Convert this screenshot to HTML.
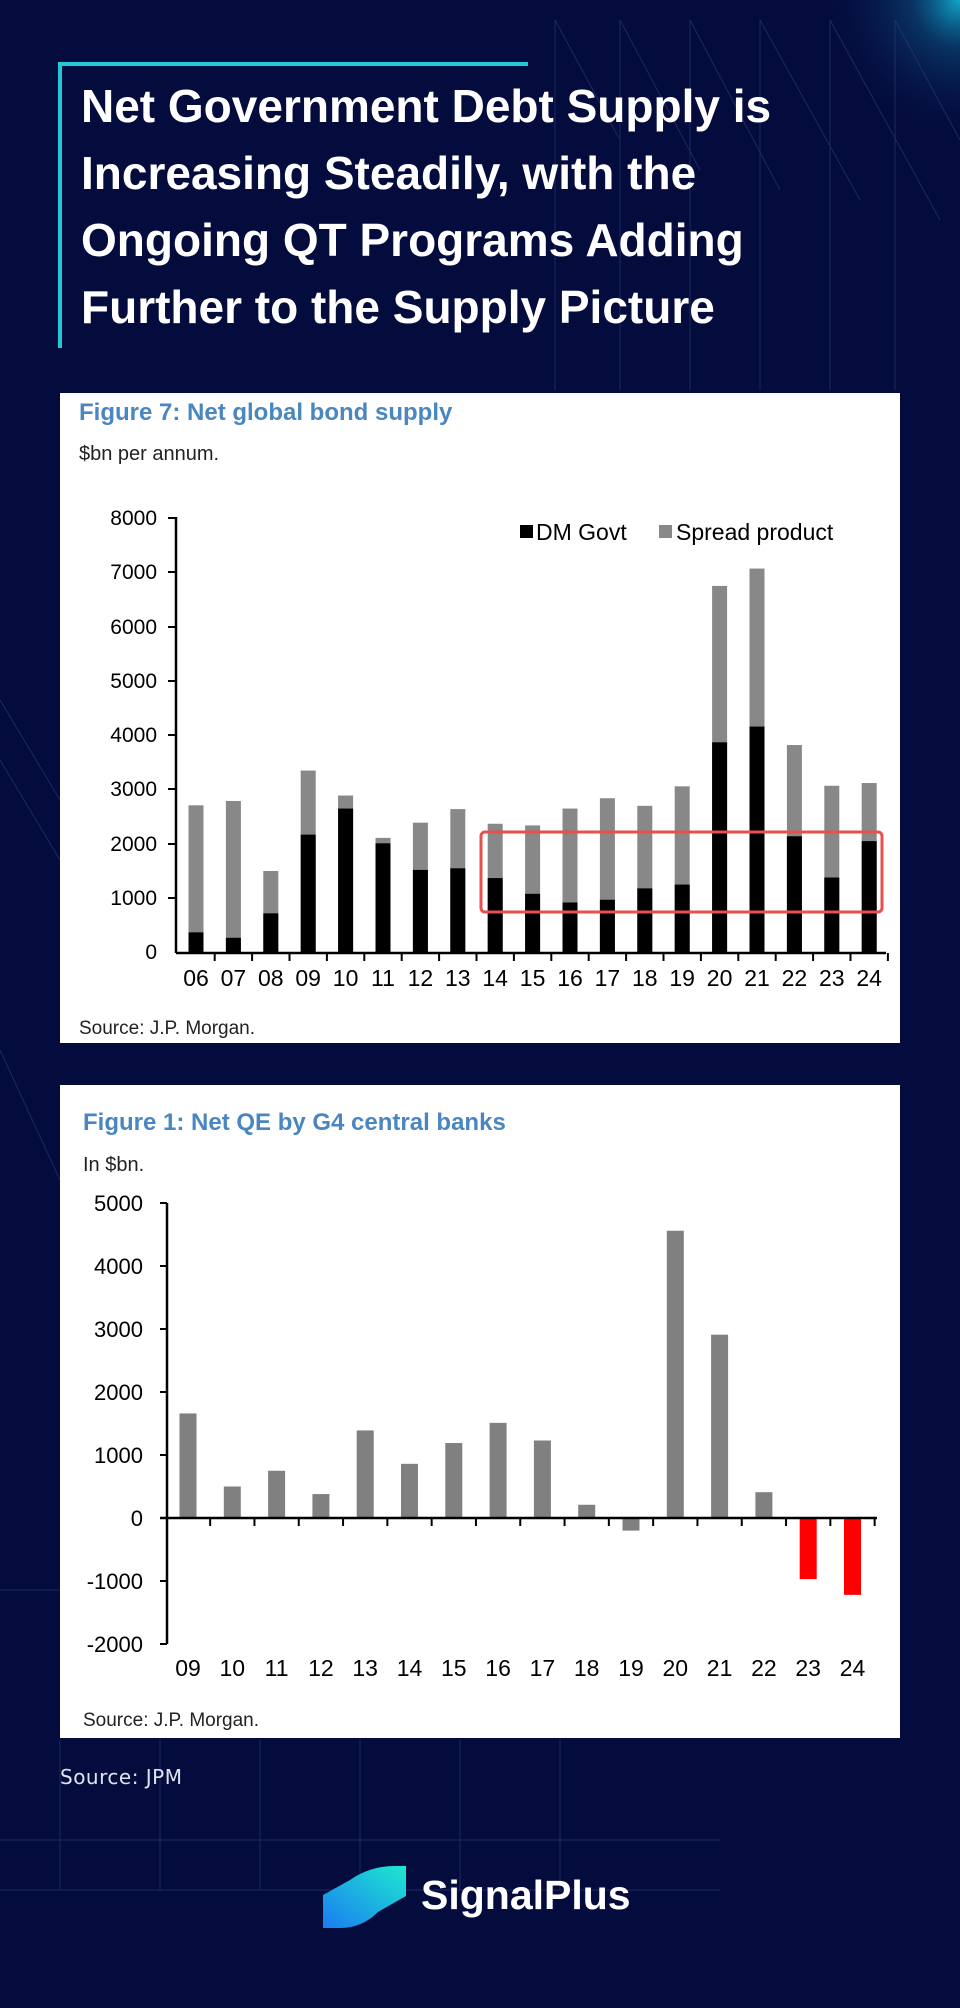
<!DOCTYPE html>
<html><head><meta charset="utf-8"><style>
html,body{margin:0;padding:0;background:#040c3d;}
svg{display:block}
</style></head><body>
<svg width="960" height="2008" viewBox="0 0 960 2008" xmlns="http://www.w3.org/2000/svg" font-family="Liberation Sans, Arial, sans-serif">
<defs>
<radialGradient id="g1" cx="1" cy="0" r="1"><stop offset="0" stop-color="#13b8d8" stop-opacity="0.9"/><stop offset="0.12" stop-color="#0d5a8a" stop-opacity="0.5"/><stop offset="0.35" stop-color="#040c3d" stop-opacity="0"/></radialGradient>
<radialGradient id="g2" cx="0" cy="0.5" r="0.5"><stop offset="0" stop-color="#0f8fba" stop-opacity="0.8"/><stop offset="0.5" stop-color="#0a3a6e" stop-opacity="0.4"/><stop offset="1" stop-color="#040c3d" stop-opacity="0"/></radialGradient>
<linearGradient id="lg" x1="0" y1="1" x2="1" y2="0"><stop offset="0" stop-color="#1a7cf0"/><stop offset="1" stop-color="#1ee8d0"/></linearGradient>
</defs>
<rect width="960" height="2008" fill="#040c3d"/>
<rect x="560" y="0" width="400" height="400" fill="url(#g1)"/>
<rect x="-200" y="580" width="400" height="400" fill="url(#g2)"/>
<g stroke="#2a3f7a" stroke-width="1" opacity="0.6" fill="none">
<line x1="555" y1="20" x2="620" y2="140"/><line x1="620" y1="20" x2="700" y2="170"/><line x1="690" y1="20" x2="780" y2="190"/><line x1="760" y1="20" x2="860" y2="200"/><line x1="830" y1="20" x2="940" y2="220"/><line x1="895" y1="20" x2="960" y2="140"/>
<line x1="555" y1="20" x2="555" y2="390"/><line x1="620" y1="20" x2="620" y2="390"/><line x1="690" y1="20" x2="690" y2="390"/><line x1="760" y1="20" x2="760" y2="390"/><line x1="830" y1="20" x2="830" y2="390"/><line x1="895" y1="20" x2="895" y2="390"/>
<line x1="0" y1="700" x2="60" y2="800"/><line x1="0" y1="760" x2="60" y2="860"/><line x1="0" y1="1050" x2="60" y2="1180"/>
<line x1="0" y1="1590" x2="720" y2="1590"/><line x1="0" y1="1840" x2="720" y2="1840"/><line x1="0" y1="1890" x2="720" y2="1890"/>
<line x1="60" y1="1740" x2="60" y2="1890"/><line x1="160" y1="1740" x2="160" y2="1890"/><line x1="260" y1="1740" x2="260" y2="1890"/><line x1="360" y1="1740" x2="360" y2="1890"/><line x1="460" y1="1740" x2="460" y2="1890"/><line x1="560" y1="1740" x2="560" y2="1890"/>
</g>
<!-- title -->
<rect x="58" y="62" width="470" height="4" fill="#22c8d6"/>
<rect x="58" y="62" width="4" height="286" fill="#22c8d6"/>
<g fill="#fff" font-family="Liberation Sans, DejaVu Sans, sans-serif" font-weight="bold" font-size="46">
<text x="81" y="122">Net Government Debt Supply is</text>
<text x="81" y="189">Increasing Steadily, with the</text>
<text x="81" y="256">Ongoing QT Programs Adding</text>
<text x="81" y="323">Further to the Supply Picture</text>
</g>
<!-- panel 1 -->
<rect x="60" y="393" width="840" height="650" fill="#fff"/>
<text x="79" y="420" font-size="24" font-weight="bold" fill="#4a86c0">Figure 7: Net global bond supply</text>
<text x="79" y="460" font-size="20" fill="#222">$bn per annum.</text>
<g font-size="21" fill="#000" text-anchor="end">
<text x="157" y="525">8000</text><text x="157" y="579">7000</text><text x="157" y="634">6000</text><text x="157" y="688">5000</text><text x="157" y="742">4000</text><text x="157" y="796">3000</text><text x="157" y="851">2000</text><text x="157" y="905">1000</text><text x="157" y="959">0</text>
</g>
<g id="bars1"></g>
<line x1="176" y1="517" x2="176" y2="953" stroke="#000" stroke-width="2.5"/>
<line x1="176" y1="953" x2="886" y2="953" stroke="#000" stroke-width="2.5"/>
<g stroke="#000" stroke-width="2">
<line x1="168" y1="518" x2="176" y2="518"/><line x1="168" y1="572" x2="176" y2="572"/><line x1="168" y1="627" x2="176" y2="627"/><line x1="168" y1="681" x2="176" y2="681"/><line x1="168" y1="735" x2="176" y2="735"/><line x1="168" y1="789" x2="176" y2="789"/><line x1="168" y1="844" x2="176" y2="844"/><line x1="168" y1="898" x2="176" y2="898"/>
</g>
<rect x="520" y="525" width="13" height="13" fill="#000"/>
<text x="536" y="540" font-size="23" fill="#000">DM Govt</text>
<rect x="659" y="525" width="13" height="13" fill="#888"/>
<text x="676" y="540" font-size="23" fill="#000">Spread product</text>
<rect x="481" y="832" width="401" height="80" rx="4" fill="none" stroke="#e8504c" stroke-width="3"/>
<text x="79" y="1034" font-size="19" fill="#222">Source: J.P. Morgan.</text>
<!-- panel 2 -->
<rect x="60" y="1085" width="840" height="653" fill="#fff"/>
<text x="83" y="1130" font-size="24" font-weight="bold" fill="#4a86c0">Figure 1: Net QE by G4 central banks</text>
<text x="83" y="1171" font-size="20" fill="#222">In $bn.</text>
<g font-size="22" fill="#000" text-anchor="end">
<text x="143" y="1211">5000</text><text x="143" y="1274">4000</text><text x="143" y="1337">3000</text><text x="143" y="1400">2000</text><text x="143" y="1463">1000</text><text x="143" y="1526">0</text><text x="143" y="1589">-1000</text><text x="143" y="1652">-2000</text>
</g>
<g id="bars2"></g>
<line x1="167" y1="1203" x2="167" y2="1644" stroke="#000" stroke-width="2.5"/>
<line x1="160" y1="1518" x2="877" y2="1518" stroke="#000" stroke-width="2.5"/>
<g stroke="#000" stroke-width="2">
<line x1="160" y1="1203" x2="167" y2="1203"/><line x1="160" y1="1266" x2="167" y2="1266"/><line x1="160" y1="1329" x2="167" y2="1329"/><line x1="160" y1="1392" x2="167" y2="1392"/><line x1="160" y1="1455" x2="167" y2="1455"/><line x1="160" y1="1581" x2="167" y2="1581"/><line x1="160" y1="1644" x2="167" y2="1644"/>
</g>
<text x="83" y="1726" font-size="19" fill="#222">Source: J.P. Morgan.</text>
<text x="60" y="1784" font-size="20" fill="#dfe4f2" font-family="DejaVu Sans, sans-serif" letter-spacing="0.5">Source: JPM</text>
<!-- logo -->
<path d="M323 1895 L350 1880 Q370 1866 395 1866 L406 1866 L406 1896 L378 1912 Q362 1928 340 1928 L323 1928 Z" fill="url(#lg)"/>
<text x="421" y="1909" font-size="41" font-weight="bold" fill="#fff" font-family="Liberation Sans, sans-serif">SignalPlus</text>
<script>
var ns="http://www.w3.org/2000/svg";
function R(g,x,y,w,h,f){var r=document.createElementNS(ns,"rect");r.setAttribute("x",x);r.setAttribute("y",y);r.setAttribute("width",w);r.setAttribute("height",h);r.setAttribute("fill",f);g.appendChild(r);}
function T(g,x,y,s,sz){var t=document.createElementNS(ns,"text");t.setAttribute("x",x);t.setAttribute("y",y);t.setAttribute("font-size",sz);t.setAttribute("text-anchor","middle");t.textContent=s;g.appendChild(t);}
function L(g,x1,y1,x2,y2){var l=document.createElementNS(ns,"line");l.setAttribute("x1",x1);l.setAttribute("y1",y1);l.setAttribute("x2",x2);l.setAttribute("y2",y2);l.setAttribute("stroke","#000");l.setAttribute("stroke-width","2");g.appendChild(l);}
var d1=[[2720,380],[2800,280],[1510,730],[3360,2180],[2900,2660],[2120,2020],[2400,1530],[2650,1560],[2380,1380],[2350,1090],[2660,930],[2850,980],[2710,1190],[3070,1260],[6760,3880],[7080,4170],[3830,2150],[3080,1390],[3130,2060]];
var g1=document.getElementById("bars1"),k=54.3/1000,z=953;
d1.forEach(function(d,i){var c=196+i*37.4;R(g1,c-7.5,z-d[0]*k,15,d[0]*k,"#888");R(g1,c-7.5,z-d[1]*k,15,d[1]*k,"#000");
var lab=(i+6<10?"0":"")+(i+6);T(g1,c,986,lab,23);L(g1,c+18.7,953,c+18.7,961);});
var d2=[1660,500,750,380,1390,860,1190,1510,1230,210,-200,4560,2910,410,-970,-1220];
var g2=document.getElementById("bars2"),k2=63/1000,z2=1518;
d2.forEach(function(v,i){var c=188+i*44.3,h=Math.abs(v)*k2;R(g2,c-8.5,v>0?z2-h:z2,17,h,i>=14?"#ff0000":"#808080");
var lab=(i+9<10?"0":"")+(i+9);T(g2,c,1676,lab,23);L(g2,c+22.15,1518,c+22.15,1526);});
</script>
</svg>
</body></html>
